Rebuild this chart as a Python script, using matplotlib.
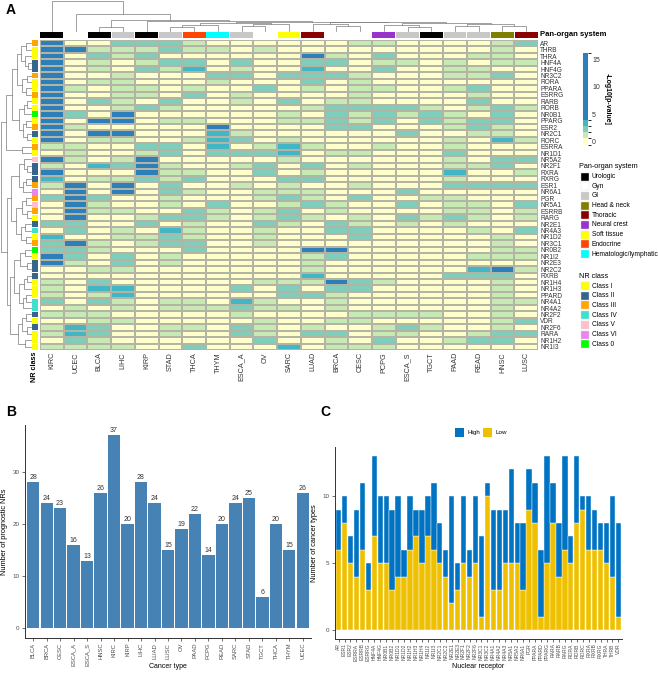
import numpy as np
import matplotlib
matplotlib.use('Agg')
import matplotlib.pyplot as plt
from matplotlib.colors import ListedColormap, BoundaryNorm
from matplotlib.patches import Rectangle
import matplotlib.cm as cm

plt.rcParams['font.family'] = ['Liberation Sans', 'DejaVu Sans']

# ---------------- data: panel A ----------------
heat_cols = ['KIRC', 'UCEC', 'BLCA', 'LIHC', 'KIRP', 'STAD', 'THCA', 'THYM', 'ESCA_A', 'OV', 'SARC',
             'LUAD', 'BRCA', 'CESC', 'PCPG', 'ESCA_S', 'TGCT', 'PAAD', 'READ', 'HNSC', 'LUSC']
col_system = ['Urologic', 'Gyn', 'Urologic', 'GI', 'Urologic', 'GI', 'Endocrine', 'Hematologic/lymphatic',
              'GI', 'Gyn', 'Soft tissue', 'Thoracic', 'Gyn', 'Gyn', 'Neural crest', 'GI', 'Urologic',
              'GI', 'GI', 'Head & neck', 'Thoracic']
heat_rows = ['AR', 'THRB', 'THRA', 'HNF4A', 'HNF4G', 'NR3C2', 'RORA', 'PPARA', 'ESRRG', 'RARB', 'RORB',
             'NR0B1', 'PPARG', 'ESR2', 'NR2C1', 'RORC', 'ESRRA', 'NR1D1', 'NR5A2', 'NR2F1', 'RXRA', 'RXRG',
             'ESR1', 'NR6A1', 'PGR', 'NR5A1', 'ESRRB', 'RARG', 'NR2E1', 'NR4A3', 'NR1D2', 'NR3C1', 'NR0B2',
             'NR1I2', 'NR2E3', 'NR2C2', 'RXRB', 'NR1H4', 'NR1H3', 'PPARD', 'NR4A1', 'NR4A2', 'NR2F2', 'VDR',
             'NR2F6', 'RARA', 'NR1H2', 'NR1I3']
row_class = ['Class III', 'Class I', 'Class I', 'Class II', 'Class II', 'Class III', 'Class I', 'Class I',
             'Class III', 'Class I', 'Class I', 'Class 0', 'Class I', 'Class III', 'Class II', 'Class I',
             'Class III', 'Class I', 'Class V', 'Class II', 'Class II', 'Class II', 'Class III', 'Class VI',
             'Class III', 'Class V', 'Class III', 'Class I', 'Class II', 'Class IV', 'Class I', 'Class III',
             'Class 0', 'Class I', 'Class II', 'Class II', 'Class II', 'Class I', 'Class I', 'Class I',
             'Class IV', 'Class IV', 'Class II', 'Class I', 'Class II', 'Class I', 'Class I', 'Class I']
# significance level of each cell (0 = not significant ... 4 = very strong)
heat_levels = [
    "400222100000011000012", "441112110100000000010", "402120000004102000110", "401012202002201101011",
    "401021301003002001100", "400100022022210001120", "401100010002010000000", "410110100201011001200",
    "400110201000010000100", "402102001020110000200", "400121000001222210121", "420400000010212121020",
    "404401100011212021220", "410000040000220001210", "404400031000000200110", "401100132010000001031",
    "110022030131001001000", "010012022230110002000", "410140000010000001022", "103241001202010001120",
    "400041100201000003001", "301121200022000001000", "140402001010010002222", "040402100111000200000",
    "242001000121020011000", "041001020012100201102", "041100210120100001101", "040012210121010212101",
    "220020100210210101000", "020103100100220000102", "300112100100020000010", "241012200100000000010",
    "221000200004400000011", "420201000001200000111", "410201000001000000000", "001100000001000000341",
    "000000000003000002220", "102000000111421000010", "103300002020220000010", "101300000022100000010",
    "202101103100100000011", "010101112110100000010", "111000001000011110010", "001100000100110000012",
    "132001102101001210010", "132001002102201100122", "021000000200102001220", "111100200030111000000"]
level_nlp = [0.0, 1.2, 2.3, 3.4, 10.0]           # -log10(p) represented by each level
cbar_bounds = [-0.6, 0.7, 1.8, 2.9, 4.0, 16.1]
cbar_colors = ['#FFFFCC', '#C7E9B4', '#7FCDBB', '#41B6C4', '#2C7FB8']

system_colors = {'Urologic': '#000000', 'Gyn': '#FFFFFF', 'GI': '#C8C8C8', 'Head & neck': '#808000',
                 'Thoracic': '#8B0000', 'Neural crest': '#9A32CD', 'Soft tissue': '#FFFF00',
                 'Endocrine': '#FF4500', 'Hematologic/lymphatic': '#00FFFF'}
class_colors = {'Class I': '#FFFF00', 'Class II': '#36648B', 'Class III': '#FFA500', 'Class IV': '#40E0D0',
                'Class V': '#FFC0CB', 'Class VI': '#EE82EE', 'Class 0': '#00FF00'}

# dendrograms: (left, right, height); leaves are display positions
col_tree = (0, (1, ((2, 3, 4),
                    (4, (((((5, 6, 4), 7, 6), ((8, 9, 5), 10, 7), 8),
                          ((11, (12, 13, 5), 7),
                           ((14, (15, 16, 4), 6), ((17, 18, 5), (19, 20, 5), 7), 8.5), 9), 9.5)), 10), 11), 17), 31)
row_tree = (((((((0, 1, 5), (2, (3, 4, 3), 6), 10), ((5, 6, 4), (7, 8, 5), 9), 14),
               ((((9, 10, 4), 11, 7), ((12, 13, 5), (14, 15, 4), 8), 12)), 19), (16, 17, 9), 25)),
            ((((18, (19, 20, 4), 7), ((21, 22, 5), 23, 8), 12),
              ((((24, 25, 5), (26, 27, 4), 9), ((28, 29, 6), (30, 31, 5), 10), 15)), 20),
             ((((32, 33, 6), (34, 35, 4), 11), (((36, 37, 4), 38, 7), ((39, 40, 5), 41, 8), 12), 17),
              (((42, 43, 5), (44, 45, 4), 9), (46, 47, 6), 13), 21), 24), 31)

# ---------------- data: panel B ----------------
b_types = ['BLCA', 'BRCA', 'CESC', 'ESCA_A', 'ESCA_S', 'HNSC', 'KIRC', 'KIRP', 'LIHC', 'LUAD', 'LUSC',
           'OV', 'PAAD', 'PCPG', 'READ', 'SARC', 'STAD', 'TGCT', 'THCA', 'THYM', 'UCEC']
b_counts = [28, 24, 23, 16, 13, 26, 37, 20, 28, 24, 15, 19, 22, 14, 20, 24, 25, 6, 20, 15, 26]

# ---------------- data: panel C ----------------
c_nrs = ['AR', 'ESR1', 'ESR2', 'ESRRA', 'ESRRB', 'ESRRG', 'HNF4A', 'HNF4G', 'NR0B1', 'NR0B2', 'NR1D1',
         'NR1D2', 'NR1H2', 'NR1H3', 'NR1H4', 'NR1I2', 'NR1I3', 'NR2C1', 'NR2C2', 'NR2E1', 'NR2E3', 'NR2F1',
         'NR2F2', 'NR2F6', 'NR3C1', 'NR3C2', 'NR4A1', 'NR4A2', 'NR4A3', 'NR5A1', 'NR5A2', 'NR6A1', 'PGR',
         'PPARA', 'PPARD', 'PPARG', 'RARA', 'RARB', 'RARG', 'RORA', 'RORB', 'RORC', 'RXRA', 'RXRB', 'RXRG',
         'THRA', 'THRB', 'VDR']
c_low = [6, 8, 5, 4, 6, 3, 7, 5, 5, 3, 4, 4, 6, 7, 5, 7, 6, 5, 4, 2, 3, 5, 4, 5, 1, 10, 3, 3, 5, 5, 5, 3,
         9, 8, 1, 5, 8, 4, 6, 5, 8, 9, 6, 6, 6, 5, 4, 1]
c_high = [3, 2, 2, 5, 5, 2, 6, 5, 5, 6, 6, 2, 4, 2, 4, 3, 5, 3, 2, 8, 2, 5, 2, 5, 6, 1, 6, 6, 4, 7, 3, 5,
          3, 3, 5, 8, 3, 4, 7, 2, 5, 1, 4, 3, 2, 3, 6, 7]

# ---------------- figure ----------------
W, H = 658, 673
fig = plt.figure(figsize=(W / 100, H / 100), dpi=100)


def px_axes(x0, y0, x1, y1):
    return fig.add_axes([x0 / W, 1 - y1 / H, (x1 - x0) / W, (y1 - y0) / H])


def draw_tree(ax, node, top):
    if isinstance(node, int):
        return node + 0.5, 0.0
    a, b, h = node
    pa, ha = draw_tree(ax, a, top)
    pb, hb = draw_tree(ax, b, top)
    if top:
        ax.plot([pa, pa, pb, pb], [ha, h, h, hb], color='#7A7A7A', lw=0.5, clip_on=False)
    else:
        ax.plot([ha, h, h, hb], [pa, pa, pb, pb], color='#7A7A7A', lw=0.5, clip_on=False)
    return (pa + pb) / 2, h


ov = fig.add_axes([0, 0, 1, 1])
ov.set_xlim(0, W)
ov.set_ylim(H, 0)
ov.axis('off')

# heatmap
cmap = ListedColormap(cbar_colors)
norm = BoundaryNorm(cbar_bounds, cmap.N)
vals = np.array([[level_nlp[int(c)] for c in r] for r in heat_levels])
ax = px_axes(40, 40, 538, 350)
ax.pcolormesh(vals, cmap=cmap, norm=norm, edgecolors='#B4B4A4', linewidth=0.3)
ax.set_xlim(0, len(heat_cols))
ax.set_ylim(len(heat_rows), 0)
ax.set_xticks(np.arange(len(heat_cols)) + 0.5)
ax.set_xticklabels(heat_cols, rotation=90, fontsize=5.2, color='#333333')
ax.set_yticks(np.arange(len(heat_rows)) + 0.5)
ax.set_yticklabels(heat_rows, fontsize=4.7, color='#333333')
ax.yaxis.tick_right()
ax.tick_params(length=0, pad=1.5)
for s in ax.spines.values():
    s.set_visible(False)

# column annotation bar
axc = px_axes(40, 31.5, 538, 37.5)
axc.bar(np.arange(len(heat_cols)) + 0.5, 1, width=0.96, color=[system_colors[s] for s in col_system])
axc.set_xlim(0, len(heat_cols))
axc.set_ylim(0, 1)
axc.axis('off')

# row annotation bar
axr = px_axes(32, 40, 38, 350)
axr.barh(np.arange(len(heat_rows)) + 0.5, 1, height=0.92, color=[class_colors[c] for c in row_class])
axr.set_ylim(len(heat_rows), 0)
axr.set_xlim(0, 1)
axr.axis('off')

# dendrograms
axt = px_axes(40, 0.5, 538, 31)
draw_tree(axt, col_tree, True)
axt.set_xlim(0, len(heat_cols))
axt.set_ylim(0, 31)
axt.axis('off')

axd = px_axes(0.5, 40, 31, 350)
draw_tree(axd, row_tree, False)
axd.set_xlim(31, 0)
axd.set_ylim(len(heat_rows), 0)
axd.axis('off')

ov.text(540, 34.5, 'Pan-organ system', fontsize=5.5, fontweight='bold', va='center', ha='left')
ov.text(35, 352, 'NR class', fontsize=5.2, fontweight='bold', rotation=90, va='top', ha='center')

# colorbar
cax = px_axes(583, 53, 588, 145)
cb = fig.colorbar(cm.ScalarMappable(norm=norm, cmap=cmap), cax=cax, ticks=[0, 5, 10, 15],
                  spacing='proportional')
cb.outline.set_visible(False)
cax.tick_params(length=0, labelsize=5, pad=3, colors='#333333')
ov.text(607, 99, '-Log10[p-value]', rotation=-90, fontsize=5, fontweight='bold', va='center', ha='center')

# legends
ov.text(579, 166, 'Pan-organ system', fontsize=5.2, va='center', ha='left')
for k, name in enumerate(system_colors):
    y = 176.5 + 9.7 * k
    ov.add_patch(Rectangle((581, y - 4), 8, 8, facecolor=system_colors[name], edgecolor='#E0E0E0', lw=0.3))
    ov.text(592, y, name, fontsize=4.8, va='center', ha='left')
ov.text(579, 276.5, 'NR class', fontsize=5.2, va='center', ha='left')
for k, name in enumerate(class_colors):
    y = 286 + 9.7 * k
    ov.add_patch(Rectangle((581, y - 4), 8, 8, facecolor=class_colors[name], edgecolor='#E0E0E0', lw=0.3))
    ov.text(592, y, name, fontsize=4.8, va='center', ha='left')

# panel letters
ov.text(11, 10, 'A', fontsize=10, fontweight='bold', va='center', ha='center')
ov.text(11, 411.5, 'B', fontsize=10, fontweight='bold', va='center', ha='center')
ov.text(325, 411.5, 'C', fontsize=10, fontweight='bold', va='center', ha='center')

axis_col = '#333333'
tick_col = '#4D4D4D'

# panel B
axB = px_axes(25, 425, 311, 638)
xb = np.arange(len(b_types))
axB.bar(xb, b_counts, width=0.9, color='#4682B4')
for xi, c in zip(xb, b_counts):
    axB.text(xi, c + 0.2, str(c), ha='center', va='bottom', fontsize=5, color='#333333')
axB.set_xlim(-0.6, len(b_types) - 0.4)
axB.set_ylim(-1.85, 39)
axB.set_xticks(xb)
axB.set_xticklabels(b_types, rotation=90, fontsize=4.2, color=tick_col)
axB.set_yticks([0, 10, 20, 30])
axB.tick_params(axis='y', labelsize=4.5, labelcolor=tick_col, length=2, width=0.5, color=axis_col, pad=2)
axB.tick_params(axis='x', length=2, width=0.5, color=axis_col, pad=1.5)
axB.set_ylabel('Number of prognostic NRs', fontsize=5.3, labelpad=3)
for s in ['top', 'right']:
    axB.spines[s].set_visible(False)
for s in ['left', 'bottom']:
    axB.spines[s].set_color(axis_col)
    axB.spines[s].set_linewidth(0.7)
ov.text(168, 667, 'Cancer type', fontsize=5.0, va='center', ha='center')

# panel C
axC = px_axes(335, 447, 622, 639)
xc = np.arange(len(c_nrs))
axC.bar(xc, c_low, width=0.9, color='#EFC000', edgecolor='white', linewidth=0.3)
axC.bar(xc, c_high, bottom=c_low, width=0.9, color='#0073C2', edgecolor='white', linewidth=0.3)
axC.set_xlim(-0.6, len(c_nrs) - 0.4)
axC.set_ylim(-0.66, 13.68)
axC.set_xticks(xc)
axC.set_xticklabels(c_nrs, rotation=90, fontsize=3.6, color=tick_col)
axC.set_yticks([0, 5, 10])
axC.tick_params(axis='y', labelsize=4.5, labelcolor=tick_col, length=2, width=0.5, color=axis_col, pad=2)
axC.tick_params(axis='x', length=2, width=0.5, color=axis_col, pad=1.2)
axC.set_ylabel('Number of cancer types', fontsize=5.3, labelpad=3)
for s in ['top', 'right']:
    axC.spines[s].set_visible(False)
for s in ['left', 'bottom']:
    axC.spines[s].set_color(axis_col)
    axC.spines[s].set_linewidth(0.7)
ov.text(478, 667, 'Nuclear receptor', fontsize=5.0, va='center', ha='center')

ov.add_patch(Rectangle((455, 428), 9, 9, facecolor='#0073C2', edgecolor='none'))
ov.text(467, 432.5, 'High', fontsize=4.5, va='center', ha='left')
ov.add_patch(Rectangle((483, 428), 9, 9, facecolor='#EFC000', edgecolor='none'))
ov.text(495, 432.5, 'Low', fontsize=4.5, va='center', ha='left')

fig.savefig('out.png', dpi=100)
